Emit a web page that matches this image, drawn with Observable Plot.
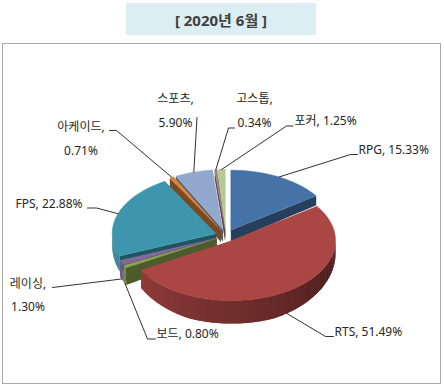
<!DOCTYPE html>
<html><head><meta charset="utf-8">
<script src="https://cdn.jsdelivr.net/npm/d3@7"></script>
<script src="https://cdn.jsdelivr.net/npm/@observablehq/plot@0.6"></script>
<style>
body{margin:0;background:#fff;width:444px;height:387px;position:relative;overflow:hidden;font-family:"Noto Sans","Noto Sans CJK KR",sans-serif;}
#title{position:absolute;left:126px;top:3px;width:190px;height:32px;background:#dbeef4;color:#404040;font-weight:bold;font-size:15px;display:flex;align-items:center;justify-content:center;}
#frame{position:absolute;left:2px;top:43px;width:437px;height:339px;border:1px solid #aaaaaa;}
#chart{position:absolute;left:0;top:43px;}
</style></head><body>
<div id="title">[ 2020년 6월 ]</div>
<div id="frame"></div>
<div id="chart"></div>
<script>
// ---- data ----
const categories = ["RPG", "RTS", "보드", "레이싱", "FPS", "아케이드", "스포츠", "고스톱", "포커"];
const shares = [15.33, 51.49, 0.80, 1.30, 22.88, 0.71, 5.90, 0.34, 1.25];
const twoLine = [false, false, false, true, false, true, true, true, false];

// ---- styles / layout ----
const palette = ["#4572A7", "#AA4643", "#89A54E", "#80699B", "#3D96AE", "#DB843D", "#92A8CD", "#A47D7C", "#B5CA92"];
const CX = 225.5, CY = 235, RX = 104, RY = 60, EXPLODE = 0.1;
// label placement (page px): [x, y of first line], anchor, leader elbow points
const labelLayout = [
  {x: 358, y: 150, anchor: "start", elbow: [[357, 154], [350, 154]]},
  {x: 334, y: 332, anchor: "start", elbow: [[333, 336], [325, 336]]},
  {x: 156, y: 334, anchor: "start", elbow: [[155, 338.5], [147, 338.5]]},
  {x: 27.5, y: 283.5, anchor: "middle", elbow: [[52, 287]]},
  {x: 15, y: 203.5, anchor: "start", elbow: [[87, 207.5], [96, 207.5]]},
  {x: 80.5, y: 127, anchor: "middle", elbow: [[109, 130], [116, 130]]},
  {x: 175, y: 99, anchor: "middle", elbow: [[196.5, 117]]},
  {x: 254, y: 99, anchor: "middle", elbow: [[234, 127.5], [228, 127.5]]},
  {x: 294, y: 121, anchor: "start", elbow: [[292.5, 125.5], [286, 125.5]]}
];
const LINE_GAP = 23.5;

// ---- geometry ----
const rad = d => d * Math.PI / 180;
const total = d3.sum(shares);
let acc = 0;
const slices = categories.map((c, i) => {
  const a0 = acc / total * 360; acc += shares[i];
  const a1 = acc / total * 360; const m = (a0 + a1) / 2;
  return {i, c, v: shares[i], a0, a1, m, color: palette[i],
    ox: CX + EXPLODE * RX * Math.sin(rad(m)), oy: CY - EXPLODE * RY * Math.cos(rad(m))};
});
const pt = (s, a, r = 1) => [s.ox + RX * r * Math.sin(rad(a)), s.oy - RY * r * Math.cos(rad(a))];
const depth = y => { const t = Math.max(0, Math.min(1, (y - (CY - RY)) / (2 * RY))); return 9 + 14 * t * t; };
const down = ([x, y]) => [x, y + depth(y)];
const shade = (col, k) => { const c = d3.rgb(col); return d3.rgb(c.r * k, c.g * k, c.b * k).formatHex(); };
const wallShade = a => Math.max(0.35, Math.min(0.95, 0.41 + 0.43 * (a - 90) / 150));

const walls = [];
slices.forEach(s => {
  const radial = (a) => {
    const top = d3.range(0, 1.0001, 0.1).map(r => pt(s, a, r));
    const bot = top.slice().reverse().map(down);
    walls.push({pts: top.concat(bot), color: shade(s.color, 0.55), key: d3.max(top, p => p[1]), sw: 0.5});
  };
  if (Math.sin(rad(s.a0)) < 0) radial(s.a0);
  if (Math.sin(rad(s.a1)) > 0 && s.a1 < 180) radial(s.a1);
  const lo = Math.max(s.a0, 90), hi = Math.min(s.a1, 270);
  if (hi > lo) {
    const n = Math.max(1, Math.ceil((hi - lo) / 1));
    for (let k = 0; k < n; k++) {
      const a = lo + (hi - lo) * k / n, b = lo + (hi - lo) * (k + 1) / n;
      const bb = k < n - 1 ? b + 0.8 * (hi - lo) / n : b;
      const pa = pt(s, a), pb = pt(s, bb);
      walls.push({pts: [pa, pb, down(pb), down(pa)], color: shade(s.color, wallShade((a + b) / 2)), key: (pa[1] + pb[1]) / 2, sw: 0});
    }
  }
});
walls.sort((p, q) => p.key - q.key);
const tops = slices.map(s => {
  const n = Math.max(2, Math.ceil((s.a1 - s.a0) / 1));
  const arc = d3.range(n + 1).map(k => pt(s, s.a0 + (s.a1 - s.a0) * k / n));
  return {pts: [[s.ox, s.oy], ...arc], color: s.color};
});
const wallRows = walls.flatMap((p, id) => p.pts.map(([x, y]) => ({id, x, y, color: p.color})));
const topRows = tops.flatMap((p, id) => p.pts.map(([x, y]) => ({id, x, y, color: p.color})));

// labels & leaders
const textRows = [];
const leaderRows = [];
slices.forEach((s, i) => {
  const L = labelLayout[i];
  const val = s.v.toFixed(2) + "%";
  if (twoLine[i]) {
    textRows.push({x: L.x, y: L.y, t: s.c + ",", anchor: L.anchor});
    textRows.push({x: L.x, y: L.y + LINE_GAP, t: val, anchor: L.anchor});
  } else {
    textRows.push({x: L.x, y: L.y, t: s.c + ", " + val, anchor: L.anchor});
  }
  const front = -Math.cos(rad(s.m)) > 0;
  let anchorPt = pt(s, s.m, 1);
  if (front) anchorPt = down(anchorPt);
  [...L.elbow, anchorPt].forEach(([x, y]) => leaderRows.push({id: i, x, y}));
});

const font = '"Noto Sans","Noto Sans CJK KR",sans-serif';
const chart = Plot.plot({
  width: 444, height: 344,
  margin: 0,
  x: {domain: [0, 444], range: [0, 444], axis: null},
  y: {domain: [43, 387], range: [0, 344], axis: null},
  color: {type: "identity"},
  style: {background: "transparent", fontFamily: font},
  marks: [
    Plot.line(wallRows, {x: "x", y: "y", z: "id", fill: "color", stroke: "none", curve: "linear"}),
    Plot.line(topRows, {x: "x", y: "y", z: "id", fill: "color", stroke: "color", strokeWidth: 0.5, curve: "linear"}),
    Plot.line(leaderRows, {x: "x", y: "y", z: "id", stroke: "#1a1a1a", strokeWidth: 0.9}),
    Plot.text(textRows.filter(d => d.anchor === "start"), {x: "x", y: "y", text: "t", textAnchor: "start", lineAnchor: "middle", fontSize: 12, fill: "#262626", fontFamily: font}),
    Plot.text(textRows.filter(d => d.anchor === "middle"), {x: "x", y: "y", text: "t", textAnchor: "middle", lineAnchor: "middle", fontSize: 12, fill: "#262626", fontFamily: font})
  ]
});
document.getElementById("chart").appendChild(chart);
</script>
</body></html>
